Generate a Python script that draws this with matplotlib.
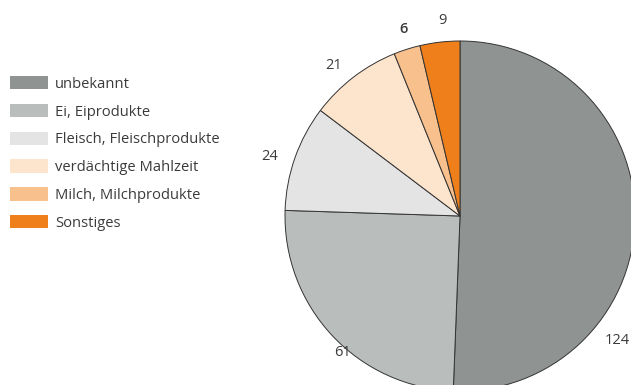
import matplotlib.pyplot as plt
from matplotlib.patches import Patch

categories = ["unbekannt", "Ei, Eiprodukte", "Fleisch, Fleischprodukte",
              "verdächtige Mahlzeit", "Milch, Milchprodukte", "Sonstiges"]
values = [124, 61, 24, 21, 6, 9]
colors = ["#8f9391", "#b9bebd", "#e3e4e3", "#fde4cd", "#f8c08c", "#ef7f1a"]

# where the value labels sit (data units, pie radius = 1)
label_pos = [(0.90, -0.71), (-0.67, -0.78), (-1.09, 0.34),
             (-0.72, 0.86), (-0.32, 1.07), (-0.10, 1.12)]

plt.rcParams['font.family'] = ['Open Sans', 'DejaVu Sans']
text_color = "#3a3a3a"

fig = plt.figure(figsize=(6.31, 3.85), dpi=100)
W, H = 631, 385
cx, cy, r = 460, 216, 175
ax = fig.add_axes([(cx - r) / W, (H - cy - r) / H, 2 * r / W, 2 * r / H])

wedges, _ = ax.pie(values, colors=colors, startangle=90, counterclock=False,
                   wedgeprops=dict(edgecolor="#333333", linewidth=0.7))
ax.set_xlim(-1, 1)
ax.set_ylim(-1, 1)
ax.set_aspect("equal")
ax.axis("off")

for v, (x, y) in zip(values, label_pos):
    weight = "semibold" if v == 6 else "normal"
    ax.text(x, y, str(v), ha="center", va="center", fontsize=10.5,
            color=text_color, fontweight=weight)

handles = [Patch(facecolor=c, edgecolor="none") for c in colors]
fig.legend(handles, categories, loc="upper left", bbox_to_anchor=(10 / W, 1 - 76 / H),
           frameon=False, fontsize=10.6, handlelength=2.58, handleheight=1.02,
           labelspacing=0.82, handletextpad=0.48, borderpad=0, borderaxespad=0,
           labelcolor=text_color)

fig.savefig("out.png", dpi=100)
